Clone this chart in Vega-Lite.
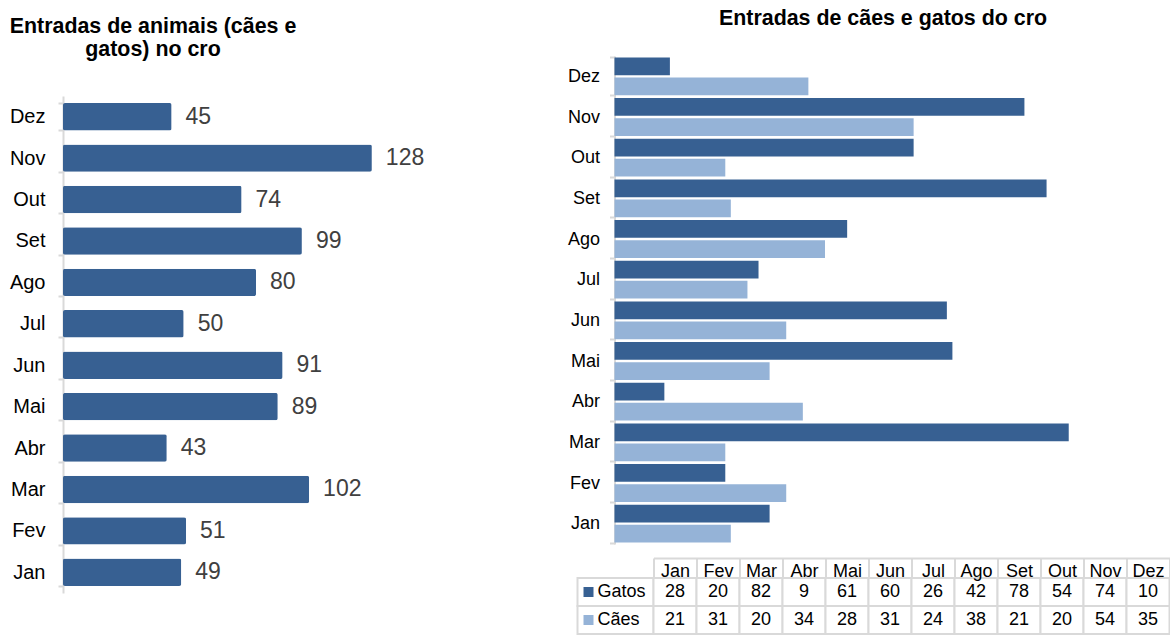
{
  "$schema": "https://vega.github.io/schema/vega-lite/v6.json",
  "padding": {"left": 9, "top": 7, "right": 0, "bottom": 0},
  "background": "white",
  "config": {"font": "Liberation Sans", "view": {"stroke": null}},
  "datasets": {
    "totais": [
      {"mes": "Jan", "total": 49}, {"mes": "Fev", "total": 51}, {"mes": "Mar", "total": 102},
      {"mes": "Abr", "total": 43}, {"mes": "Mai", "total": 89}, {"mes": "Jun", "total": 91},
      {"mes": "Jul", "total": 50}, {"mes": "Ago", "total": 80}, {"mes": "Set", "total": 99},
      {"mes": "Out", "total": 74}, {"mes": "Nov", "total": 128}, {"mes": "Dez", "total": 45}
    ],
    "series": [
      {"mes": "Jan", "serie": "Gatos", "valor": 28}, {"mes": "Jan", "serie": "Cães", "valor": 21},
      {"mes": "Fev", "serie": "Gatos", "valor": 20}, {"mes": "Fev", "serie": "Cães", "valor": 31},
      {"mes": "Mar", "serie": "Gatos", "valor": 82}, {"mes": "Mar", "serie": "Cães", "valor": 20},
      {"mes": "Abr", "serie": "Gatos", "valor": 9}, {"mes": "Abr", "serie": "Cães", "valor": 34},
      {"mes": "Mai", "serie": "Gatos", "valor": 61}, {"mes": "Mai", "serie": "Cães", "valor": 28},
      {"mes": "Jun", "serie": "Gatos", "valor": 60}, {"mes": "Jun", "serie": "Cães", "valor": 31},
      {"mes": "Jul", "serie": "Gatos", "valor": 26}, {"mes": "Jul", "serie": "Cães", "valor": 24},
      {"mes": "Ago", "serie": "Gatos", "valor": 42}, {"mes": "Ago", "serie": "Cães", "valor": 38},
      {"mes": "Set", "serie": "Gatos", "valor": 78}, {"mes": "Set", "serie": "Cães", "valor": 21},
      {"mes": "Out", "serie": "Gatos", "valor": 54}, {"mes": "Out", "serie": "Cães", "valor": 20},
      {"mes": "Nov", "serie": "Gatos", "valor": 74}, {"mes": "Nov", "serie": "Cães", "valor": 54},
      {"mes": "Dez", "serie": "Gatos", "valor": 10}, {"mes": "Dez", "serie": "Cães", "valor": 35}
    ],
    "legenda": [{"serie": "Gatos"}, {"serie": "Cães"}]
  },
  "spacing": 129.5,
  "hconcat": [
    {
      "spacing": 0,
      "vconcat": [
        {
          "data": {"values": [{}]},
          "width": 374,
          "height": 30,
          "title": {
            "text": ["Entradas de animais (cães e", "gatos) no cro"],
            "fontSize": 21.4, "fontWeight": "bold", "color": "#000000", "lineHeight": 22.5,
            "anchor": "middle", "dx": -97, "offset": -4
          },
          "mark": {"type": "text", "text": " "}
        },
        {
          "data": {"name": "totais"},
          "width": 374,
          "height": 497,
          "encoding": {
            "y": {
              "field": "mes", "type": "nominal",
              "sort": ["Dez", "Nov", "Out", "Set", "Ago", "Jul", "Jun", "Mai", "Abr", "Mar", "Fev", "Jan"],
              "scale": {"paddingInner": 0.34, "paddingOuter": 0.17},
              "axis": {
                "title": null, "domainColor": "#D9D9D9", "domainWidth": 2,
                "tickColor": "#D9D9D9", "tickWidth": 2, "tickSize": 5, "tickBand": "extent",
                "labelFontSize": 20, "labelColor": "#000000", "labelPadding": 13
              }
            },
            "x": {"field": "total", "type": "quantitative", "scale": {"domain": [0, 155], "nice": false}, "axis": null}
          },
          "layer": [
            {"mark": {"type": "bar", "color": "#376092", "cornerRadius": 2}},
            {
              "mark": {"type": "text", "align": "left", "baseline": "middle", "dx": 14, "fontSize": 23, "color": "#404040"},
              "encoding": {"text": {"field": "total", "type": "quantitative"}}
            }
          ]
        }
      ]
    },
    {
      "spacing": 13,
      "vconcat": [
        {
          "data": {"name": "series"},
          "width": 589,
          "height": 488,
          "title": {
            "text": "Entradas de cães e gatos do cro",
            "fontSize": 21.4, "fontWeight": "bold", "color": "#000000",
            "anchor": "middle", "dx": 11, "offset": 18
          },
          "mark": {"type": "bar"},
          "encoding": {
            "y": {
              "field": "mes", "type": "nominal",
              "sort": ["Dez", "Nov", "Out", "Set", "Ago", "Jul", "Jun", "Mai", "Abr", "Mar", "Fev", "Jan"],
              "scale": {"paddingInner": 0.07, "paddingOuter": 0.035},
              "axis": {
                "title": null, "offset": -37, "domainColor": "#D9D9D9", "domainWidth": 2,
                "tickColor": "#D9D9D9", "tickWidth": 2, "tickSize": 5, "tickBand": "extent",
                "labelFontSize": 18, "labelColor": "#000000", "labelPadding": 10
              }
            },
            "yOffset": {"field": "serie", "type": "nominal", "sort": ["Gatos", "Cães"], "scale": {"paddingInner": 0.12}},
            "x": {"field": "valor", "type": "quantitative", "scale": {"domain": [-6.68, 99.65], "nice": false, "zero": false}, "axis": null},
            "color": {
              "field": "serie", "type": "nominal",
              "scale": {"domain": ["Gatos", "Cães"], "range": ["#376092", "#95B3D7"]},
              "legend": null
            }
          }
        },
        {
          "spacing": 0,
          "bounds": "flush",
          "hconcat": [
            {
              "data": {"name": "legenda"},
              "width": 76,
              "height": 56,
              "encoding": {
                "y": {
                  "field": "serie", "type": "nominal", "sort": ["Gatos", "Cães"],
                  "scale": {"paddingInner": 0, "paddingOuter": 0}, "axis": null
                }
              },
              "layer": [
                {"mark": {"type": "rect", "fill": "white", "stroke": "#D9D9D9", "strokeWidth": 2}},
                {
                  "mark": {"type": "point", "shape": "square", "filled": true, "size": 100, "opacity": 1, "xOffset": -27},
                  "encoding": {
                    "color": {
                      "field": "serie", "type": "nominal",
                      "scale": {"domain": ["Gatos", "Cães"], "range": ["#376092", "#95B3D7"]},
                      "legend": null
                    }
                  }
                },
                {
                  "mark": {"type": "text", "align": "left", "baseline": "middle", "dx": -18, "fontSize": 18, "color": "#000000"},
                  "encoding": {"text": {"field": "serie", "type": "nominal"}}
                }
              ]
            },
            {
              "data": {"name": "series"},
              "width": 516,
              "height": 56,
              "encoding": {
                "x": {
                  "field": "mes", "type": "nominal",
                  "sort": ["Jan", "Fev", "Mar", "Abr", "Mai", "Jun", "Jul", "Ago", "Set", "Out", "Nov", "Dez"],
                  "scale": {"paddingInner": 0, "paddingOuter": 0},
                  "axis": {
                    "orient": "top", "title": null, "offset": 20,
                    "domainColor": "#D9D9D9", "domainWidth": 2,
                    "tickColor": "#D9D9D9", "tickWidth": 2, "tickSize": -20, "tickBand": "extent",
                    "labelFontSize": 18, "labelColor": "#000000", "labelAngle": 0,
                    "labelBaseline": "alphabetic", "labelPadding": 2
                  }
                },
                "y": {
                  "field": "serie", "type": "nominal", "sort": ["Gatos", "Cães"],
                  "scale": {"paddingInner": 0, "paddingOuter": 0}, "axis": null
                }
              },
              "layer": [
                {"mark": {"type": "rect", "fill": "white", "stroke": "#D9D9D9", "strokeWidth": 2}},
                {
                  "mark": {"type": "text", "baseline": "middle", "fontSize": 18, "color": "#000000"},
                  "encoding": {"text": {"field": "valor", "type": "quantitative"}}
                }
              ]
            }
          ]
        }
      ]
    }
  ]
}
